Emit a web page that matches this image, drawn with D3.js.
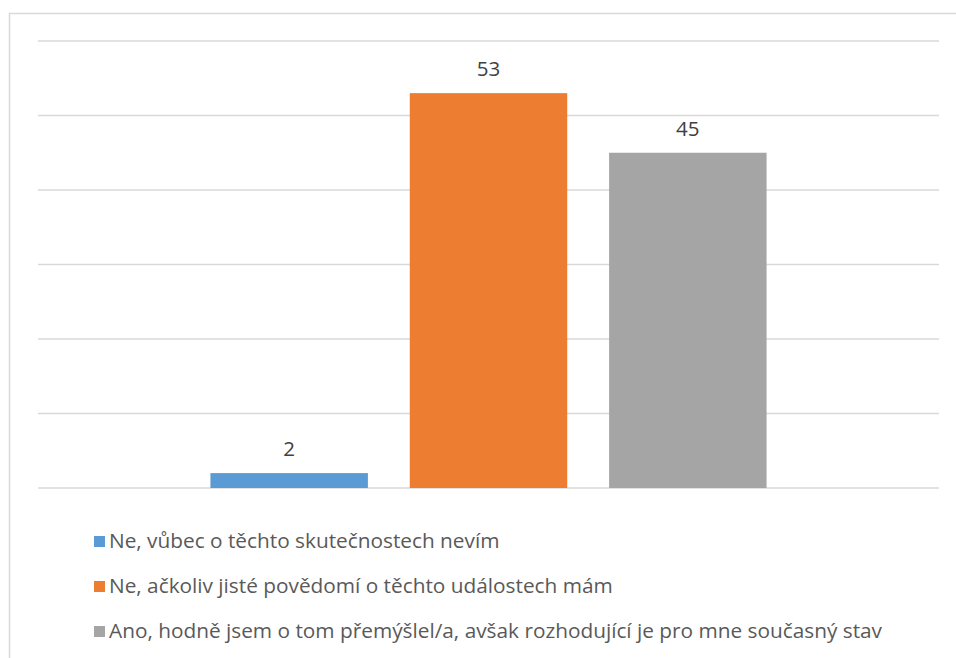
<!DOCTYPE html>
<html>
<head>
<meta charset="utf-8">
<script src="https://cdn.jsdelivr.net/npm/d3@7"></script>
<style>
  body { margin: 0; background: #fff; }
  text { font-family: "Open Sans", "Noto Sans", sans-serif; }
</style>
</head>
<body>
<div id="chart"></div>
<script>
const WIDTH = 956;
const HEIGHT = 658;
const MARGIN = { top: 41, bottom: 170, right: 16, left: 38 };

// data
const series = [
  'Ne, vůbec o těchto skutečnostech nevím',
  'Ne, ačkoliv jisté povědomí o těchto událostech mám',
  'Ano, hodně jsem o tom přemýšlel/a, avšak rozhodující je pro mne současný stav'
];
const values = [2, 53, 45];
const colors = ['#5b9bd5', '#ed7d31', '#a5a5a5'];
const yTicks = [0, 10, 20, 30, 40, 50, 60];

const svg = d3.select('#chart')
  .append('svg')
  .attr('width', WIDTH)
  .attr('height', HEIGHT);

// chart frame (runs off the right and bottom edge)
svg.append('rect')
  .attr('x', 9.5)
  .attr('y', 13.5)
  .attr('width', WIDTH + 20)
  .attr('height', HEIGHT + 20)
  .attr('fill', 'none')
  .attr('stroke', '#d9d9d9')
  .attr('stroke-width', 1.5);

const y = d3.scaleLinear()
  .domain([0, 60])
  .range([HEIGHT - MARGIN.bottom, MARGIN.top]);

const x = d3.scaleBand()
  .domain(series)
  .range([MARGIN.left, WIDTH - MARGIN.right - 1])
  .paddingInner(0.21)
  .paddingOuter(0.865);

// gridlines
svg.append('g')
  .selectAll('line')
  .data(yTicks)
  .join('line')
  .attr('x1', MARGIN.left)
  .attr('x2', WIDTH - MARGIN.right - 1)
  .attr('y1', d => y(d))
  .attr('y2', d => y(d))
  .attr('stroke', '#d9d9d9')
  .attr('stroke-width', 1.5);

// bars
svg.append('g')
  .selectAll('rect')
  .data(values)
  .join('rect')
  .attr('x', (_, i) => x(series[i]))
  .attr('width', x.bandwidth())
  .attr('y', d => y(d))
  .attr('height', d => y(0) - y(d))
  .attr('fill', (_, i) => colors[i]);

// value labels
svg.append('g')
  .selectAll('text')
  .data(values)
  .join('text')
  .attr('x', (_, i) => x(series[i]) + x.bandwidth() / 2)
  .attr('y', d => y(d) - 17)
  .attr('text-anchor', 'middle')
  .attr('font-size', 20.5)
  .attr('fill', '#404040')
  .text(d => d);

// legend
const legend = svg.append('g')
  .selectAll('g')
  .data(series)
  .join('g')
  .attr('transform', (_, i) => `translate(94, ${541 + i * 45})`);

legend.append('rect')
  .attr('x', 0)
  .attr('y', -5)
  .attr('width', 11)
  .attr('height', 11)
  .attr('fill', (_, i) => colors[i]);

legend.append('text')
  .attr('x', 15)
  .attr('y', 0)
  .attr('dy', '0.35em')
  .attr('font-size', 20.8)
  .attr('fill', '#595959')
  .text(d => d);
</script>
</body>
</html>
